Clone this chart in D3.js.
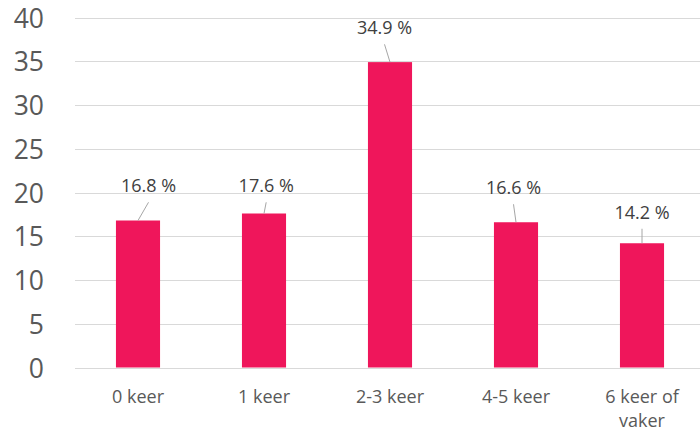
<!DOCTYPE html>
<html>
<head>
<meta charset="utf-8">
<script src="https://cdn.jsdelivr.net/npm/d3@7/dist/d3.min.js"></script>
<style>
html,body{margin:0;padding:0;background:#fff;}
svg{display:block;}
</style>
</head>
<body>
<svg id="chart" width="700" height="431"></svg>
<script>
const categories = [["0 keer"], ["1 keer"], ["2-3 keer"], ["4-5 keer"], ["6 keer of", "vaker"]];
const values = [16.8, 17.6, 34.9, 16.6, 14.2];
const valueLabels = ["16.8 %", "17.6 %", "34.9 %", "16.6 %", "14.2 %"];
const yTicks = [0, 5, 10, 15, 20, 25, 30, 35, 40];
// manual data-label placement (offsets from bar top centre), as in the original
const labelOffsets = [[10.5, -28.2], [2.2, -21.2], [-5.5, -27.8], [-2.5, -28], [0, -24.5]];

const W = 700, H = 431;
const svg = d3.select("#chart");
const font = "'Open Sans', sans-serif";
const keys = categories.map(c => c.join(" "));

const x = d3.scaleBand().domain(keys).range([75, 705]).paddingInner(0.65).paddingOuter(0.325);
const y = d3.scaleLinear().domain([0, 40]).range([367.5, 17.5]);

// gridlines
svg.append("g").selectAll("line").data(yTicks).join("line")
  .attr("x1", 75).attr("x2", W)
  .attr("y1", d => Math.round(y(d)) + 0.5).attr("y2", d => Math.round(y(d)) + 0.5)
  .attr("stroke", "#d9d9d9").attr("stroke-width", 1.2);

// y axis labels
const yAxis = d3.axisLeft(y).tickValues(yTicks).tickSize(0).tickPadding(0);
const yg = svg.append("g").attr("transform", "translate(44,0)").call(yAxis);
yg.select(".domain").remove();
yg.selectAll("text").attr("font-family", font).attr("font-size", 26.5).attr("fill", "#595959").attr("dy", "0.36em");

// bars
svg.append("g").selectAll("rect").data(values).join("rect")
  .attr("x", (d, i) => x(keys[i]))
  .attr("width", x.bandwidth())
  .attr("y", d => y(d))
  .attr("height", d => y(0) - y(d))
  .attr("fill", "#ef165b");

// leader lines
svg.append("g").selectAll("line").data(values).join("line")
  .attr("x1", (d, i) => x(keys[i]) + x.bandwidth() / 2 + labelOffsets[i][0])
  .attr("y1", (d, i) => y(d) + labelOffsets[i][1] + 10)
  .attr("x2", (d, i) => x(keys[i]) + x.bandwidth() / 2)
  .attr("y2", d => y(d))
  .attr("stroke", "#a6a6a6").attr("stroke-width", 1);

// data labels
svg.append("g").selectAll("text").data(values).join("text")
  .attr("x", (d, i) => x(keys[i]) + x.bandwidth() / 2 + labelOffsets[i][0])
  .attr("y", (d, i) => y(d) + labelOffsets[i][1])
  .attr("text-anchor", "middle")
  .attr("font-family", font).attr("font-size", 18).attr("fill", "#404040")
  .text((d, i) => valueLabels[i]);

// x axis labels
const xg = svg.append("g");
categories.forEach((lines, i) => {
  const t = xg.append("text")
    .attr("x", x(keys[i]) + x.bandwidth() / 2)
    .attr("y", 402.5)
    .attr("text-anchor", "middle")
    .attr("font-family", font).attr("font-size", 18).attr("fill", "#595959");
  lines.forEach((ln, j) => {
    t.append("tspan").attr("x", x(keys[i]) + x.bandwidth() / 2).attr("dy", j === 0 ? 0 : 24.5).text(ln);
  });
});
</script>
</body>
</html>
